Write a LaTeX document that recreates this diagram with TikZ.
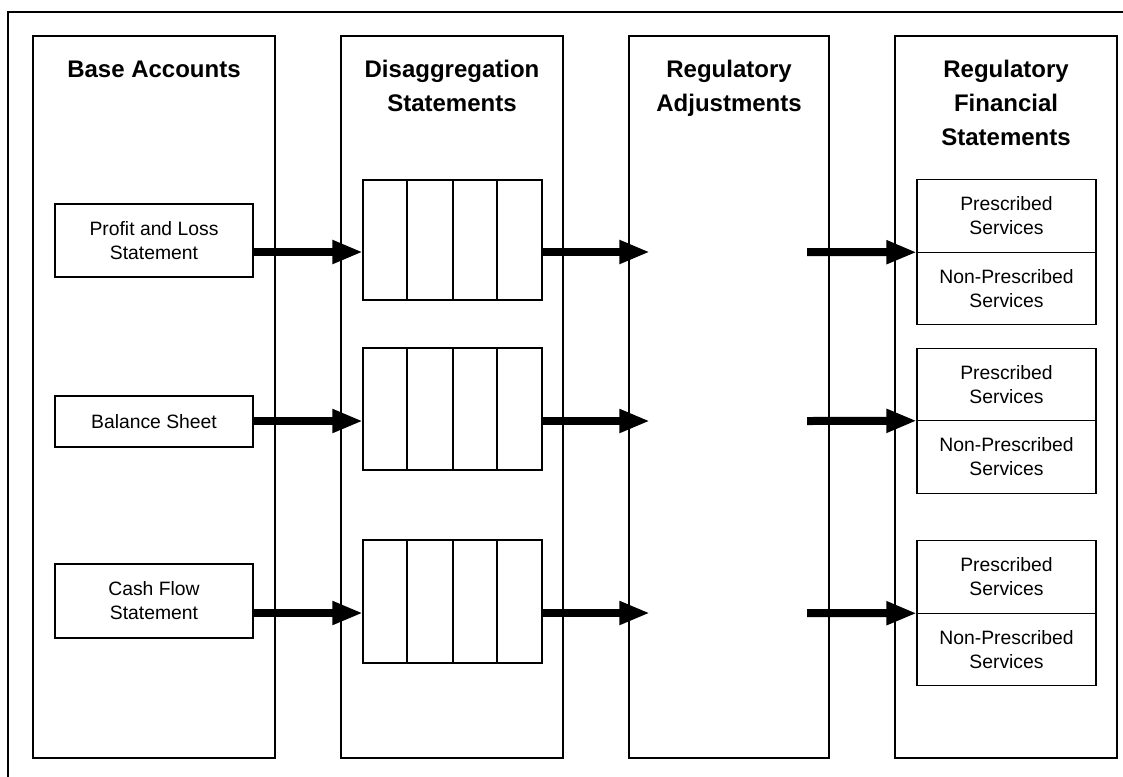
\documentclass[tikz,border=0pt]{standalone}
\usepackage{fontspec}
\setmainfont{Liberation Sans}
\usetikzlibrary{arrows.meta,positioning}
\tikzset{
  col/.style={draw,line width=1pt},
  box/.style={draw,line width=1pt,outer sep=0pt,inner sep=0pt,align=center,
    font=\fontsize{14.5}{18}\selectfont},
  grid/.style={box,minimum width=134.25pt},
  svc/.style={box,minimum width=134.25pt,minimum height=54.4pt},
  title/.style={align=center,anchor=base,font=\fontsize{18}{25.5}\selectfont\bfseries},
  fat/.style={line width=6pt,-{Triangle[length=23pt,width=16.5pt]}},
}
\begin{document}
\begin{tikzpicture}[x=0.75pt,y=-0.75pt]
        \useasboundingbox (0,0) rectangle (1123,776);
        \clip (0,0) rectangle (1123,776);
        %外框与四列
        \draw[line width=1pt] (8,12) rectangle (1140,800);
        \draw[col] (33,36) rectangle (275,758);
        \draw[col] (341,36) rectangle (563,758);
        \draw[col] (629,36) rectangle (829,758);
        \draw[col] (895,36) rectangle (1117,758);
        %标题（base 为末行基线）
        \node[title] (t1) at (154,77) {Base Accounts};
        \node[title] (t2) at (452,111) {Disaggregation\\Statements};
        \node[title] (t3) at (729,111) {Regulatory\\Adjustments};
        \node[title] (t4) at (1006,145) {Regulatory\\Financial\\Statements};
        %左列
        \node[box,minimum width=148.5pt,minimum height=54.75pt] (pl) at (154,240.5) {Profit and Loss\\Statement};
        \node[box,minimum width=148.5pt,minimum height=38.25pt] (bs) at (154,421.5) {Balance Sheet};
        \node[box,minimum width=148.5pt,minimum height=55.5pt] (cf) at (154,601) {Cash Flow\\Statement};
        %分表
        \node[grid,minimum height=90pt] (g1) at (452.5,240) {};
        \node[grid,minimum height=91.5pt] (g2) at (452.5,409) {};
        \node[grid,minimum height=92.25pt] (g3) at (452.5,601.5) {};
        \foreach \g in {g1,g2,g3}{
        \foreach \d in {44,90,134}
        \draw[line width=1pt]([xshift=\d*0.75pt]\g.north west)--([xshift=\d*0.75pt]\g.south west);
        }
        %右列
        \node[svc] (p1) at (1006.5,216) {Prescribed\\Services};
        \node[svc,below=0pt of p1] (n1) {Non-Prescribed\\Services};
        \node[svc] (p2) at (1006.5,384.5) {Prescribed\\Services};
        \node[svc,below=0pt of p2] (n2) {Non-Prescribed\\Services};
        \node[svc] (p3) at (1006.5,577) {Prescribed\\Services};
        \node[svc,below=0pt of p3] (n3) {Non-Prescribed\\Services};
        %箭头
        \coordinate (a1) at (650,252);
        \coordinate (a2) at (650,421);
        \coordinate (a3) at (650,613);
        \coordinate (b1) at (807,252);
        \coordinate (b2) at (807,421);
        \coordinate (b3) at (807,613);
        \foreach \i/\a in {1/pl,2/bs,3/cf}{
        \draw[fat](\a.east|-a\i)--(g\i.west|-a\i);
        \draw[fat](g\i.east|-a\i)--(a\i);
        \draw[fat](b\i)--(p\i.south west);
        }
    \end{tikzpicture}
\end{document}
